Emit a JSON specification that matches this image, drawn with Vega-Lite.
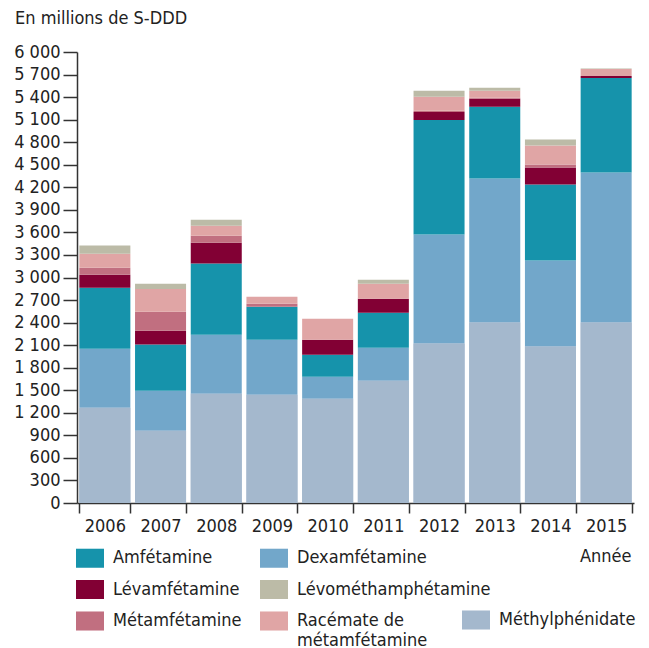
{
  "$schema": "https://vega.github.io/schema/vega-lite/v6.json",
  "width": 557,
  "height": 451,
  "autosize": {"type": "none"},
  "padding": {"left": 77, "top": 52, "right": 15, "bottom": 145},
  "background": "white",
  "config": {
    "view": {"stroke": null},
    "font": "DejaVu Sans Condensed, sans-serif",
    "axis": {"labelFont": "DejaVu Sans Condensed, sans-serif", "titleFont": "DejaVu Sans Condensed, sans-serif"},
    "legend": {"labelFont": "DejaVu Sans Condensed, sans-serif"}
  },
  "title": {
    "text": "En millions de S-DDD",
    "anchor": "start",
    "frame": "group",
    "dx": -62,
    "offset": 15,
    "fontSize": 18,
    "fontWeight": "normal",
    "color": "#222222",
    "font": "DejaVu Sans Condensed, sans-serif"
  },
  "data": {
    "values": [
      {"year": "2006", "cat": "Méthylphénidate", "v": 1268},
      {"year": "2006", "cat": "Dexamfétamine", "v": 784},
      {"year": "2006", "cat": "Amfétamine", "v": 812},
      {"year": "2006", "cat": "Lévamfétamine", "v": 173},
      {"year": "2006", "cat": "Métamfétamine", "v": 93},
      {"year": "2006", "cat": "Racémate de métamfétamine", "v": 186},
      {"year": "2006", "cat": "Lévométhamphétamine", "v": 109},
      {"year": "2007", "cat": "Méthylphénidate", "v": 962},
      {"year": "2007", "cat": "Dexamfétamine", "v": 533},
      {"year": "2007", "cat": "Amfétamine", "v": 612},
      {"year": "2007", "cat": "Lévamfétamine", "v": 186},
      {"year": "2007", "cat": "Métamfétamine", "v": 252},
      {"year": "2007", "cat": "Racémate de métamfétamine", "v": 301},
      {"year": "2007", "cat": "Lévométhamphétamine", "v": 71},
      {"year": "2008", "cat": "Méthylphénidate", "v": 1454},
      {"year": "2008", "cat": "Dexamfétamine", "v": 785},
      {"year": "2008", "cat": "Amfétamine", "v": 946},
      {"year": "2008", "cat": "Lévamfétamine", "v": 277},
      {"year": "2008", "cat": "Métamfétamine", "v": 93},
      {"year": "2008", "cat": "Racémate de métamfétamine", "v": 133},
      {"year": "2008", "cat": "Lévométhamphétamine", "v": 80},
      {"year": "2009", "cat": "Méthylphénidate", "v": 1441},
      {"year": "2009", "cat": "Dexamfétamine", "v": 731},
      {"year": "2009", "cat": "Amfétamine", "v": 439},
      {"year": "2009", "cat": "Métamfétamine", "v": 40},
      {"year": "2009", "cat": "Racémate de métamfétamine", "v": 93},
      {"year": "2010", "cat": "Méthylphénidate", "v": 1388},
      {"year": "2010", "cat": "Dexamfétamine", "v": 292},
      {"year": "2010", "cat": "Amfétamine", "v": 293},
      {"year": "2010", "cat": "Lévamfétamine", "v": 199},
      {"year": "2010", "cat": "Racémate de métamfétamine", "v": 279},
      {"year": "2011", "cat": "Méthylphénidate", "v": 1627},
      {"year": "2011", "cat": "Dexamfétamine", "v": 439},
      {"year": "2011", "cat": "Amfétamine", "v": 465},
      {"year": "2011", "cat": "Lévamfétamine", "v": 186},
      {"year": "2011", "cat": "Racémate de métamfétamine", "v": 200},
      {"year": "2011", "cat": "Lévométhamphétamine", "v": 53},
      {"year": "2012", "cat": "Méthylphénidate", "v": 2121},
      {"year": "2012", "cat": "Dexamfétamine", "v": 1450},
      {"year": "2012", "cat": "Amfétamine", "v": 1526},
      {"year": "2012", "cat": "Lévamfétamine", "v": 106},
      {"year": "2012", "cat": "Métamfétamine", "v": 14},
      {"year": "2012", "cat": "Racémate de métamfétamine", "v": 186},
      {"year": "2012", "cat": "Lévométhamphétamine", "v": 80},
      {"year": "2013", "cat": "Méthylphénidate", "v": 2400},
      {"year": "2013", "cat": "Dexamfétamine", "v": 1916},
      {"year": "2013", "cat": "Amfétamine", "v": 954},
      {"year": "2013", "cat": "Lévamfétamine", "v": 107},
      {"year": "2013", "cat": "Métamfétamine", "v": 13},
      {"year": "2013", "cat": "Racémate de métamfétamine", "v": 93},
      {"year": "2013", "cat": "Lévométhamphétamine", "v": 40},
      {"year": "2014", "cat": "Méthylphénidate", "v": 2081},
      {"year": "2014", "cat": "Dexamfétamine", "v": 1144},
      {"year": "2014", "cat": "Amfétamine", "v": 1011},
      {"year": "2014", "cat": "Lévamfétamine", "v": 226},
      {"year": "2014", "cat": "Métamfétamine", "v": 40},
      {"year": "2014", "cat": "Racémate de métamfétamine", "v": 253},
      {"year": "2014", "cat": "Lévométhamphétamine", "v": 80},
      {"year": "2015", "cat": "Méthylphénidate", "v": 2400},
      {"year": "2015", "cat": "Dexamfétamine", "v": 1996},
      {"year": "2015", "cat": "Amfétamine", "v": 1258},
      {"year": "2015", "cat": "Lévamfétamine", "v": 26},
      {"year": "2015", "cat": "Racémate de métamfétamine", "v": 94},
      {"year": "2015", "cat": "Lévométhamphétamine", "v": 8}
    ]
  },
  "transform": [
    {"calculate": "indexof(['Méthylphénidate','Dexamfétamine','Amfétamine','Lévamfétamine','Métamfétamine','Racémate de métamfétamine','Lévométhamphétamine'], datum.cat)", "as": "ord"}
  ],
  "encoding": {
    "x": {
      "field": "year",
      "type": "ordinal",
      "scale": {"paddingInner": 0.084, "paddingOuter": 0.042},
      "axis": {
        "title": "Année",
        "titleFontSize": 18,
        "titleFontWeight": "normal",
        "titleColor": "#222222",
        "titleX": 554,
        "titleY": 58,
        "titleAlign": "right",
        "titleBaseline": "alphabetic",
        "labelAngle": 0,
        "labelFontSize": 18,
        "labelColor": "#222222",
        "labelPadding": 4,
        "tickBand": "extent",
        "tickSize": 10,
        "tickColor": "#333333",
        "tickWidth": 1.5,
        "domainColor": "#333333",
        "domainWidth": 1.5
      }
    },
    "y": {
      "field": "v",
      "type": "quantitative",
      "stack": "zero",
      "scale": {"domain": [0, 6000], "nice": false},
      "axis": {
        "title": null,
        "values": [0, 300, 600, 900, 1200, 1500, 1800, 2100, 2400, 2700, 3000, 3300, 3600, 3900, 4200, 4500, 4800, 5100, 5400, 5700, 6000],
        "labelExpr": "replace(format(datum.value, ','), ',', ' ')",
        "labelFontSize": 18,
        "labelColor": "#222222",
        "labelPadding": 3,
        "tickSize": 14,
        "tickColor": "#333333",
        "tickWidth": 1.5,
        "domainColor": "#333333",
        "domainWidth": 1.5,
        "grid": false
      }
    }
  },
  "layer": [
    {
      "mark": {"type": "bar"},
      "encoding": {
        "color": {
          "field": "cat",
          "type": "nominal",
          "scale": {
            "domain": ["Amfétamine", "Lévamfétamine", "Métamfétamine", "Dexamfétamine", "Lévométhamphétamine", "Racémate de métamfétamine", "Méthylphénidate"],
            "range": ["#1693AB", "#820034", "#C16F80", "#72A7CA", "#BCBBA7", "#E0A5A5", "#A4B8CD"]
          },
          "legend": {
            "title": null,
            "orient": "none",
            "direction": "vertical",
            "legendX": -1,
            "legendY": 492,
            "columns": 2,
            "columnPadding": 18,
            "rowPadding": 7.5,
            "padding": 0,
            "values": ["Amfétamine", "Lévamfétamine", "Métamfétamine", "Dexamfétamine", "Lévométhamphétamine", "Racémate de métamfétamine"],
            "symbolType": "M-1,-0.68H1V0.68H-1Z",
            "symbolSize": 784,
            "symbolStrokeWidth": 0,
            "symbolOpacity": 1,
            "labelFontSize": 18,
            "labelLineHeight": 18,
            "labelColor": "#222222",
            "labelOffset": 9,
            "labelLimit": 400,
            "labelExpr": "datum.label == 'Racémate de métamfétamine' ? ['Racémate de', 'métamfétamine'] : datum.label"
          }
        },
        "order": {"field": "ord", "type": "quantitative"}
      }
    },
    {
      "transform": [{"filter": "datum.cat == 'Méthylphénidate'"}],
      "mark": {"type": "bar"},
      "encoding": {
        "fill": {
          "field": "cat",
          "type": "nominal",
          "scale": {"domain": ["Méthylphénidate"], "range": ["#A4B8CD"]},
          "legend": {
            "title": null,
            "orient": "none",
            "legendX": 385,
            "legendY": 554,
            "padding": 0,
            "symbolType": "M-1,-0.68H1V0.68H-1Z",
            "symbolSize": 784,
            "symbolStrokeWidth": 0,
            "symbolOpacity": 1,
            "labelFontSize": 18,
            "labelColor": "#222222",
            "labelOffset": 9,
            "labelLimit": 400
          }
        }
      }
    }
  ]
}
